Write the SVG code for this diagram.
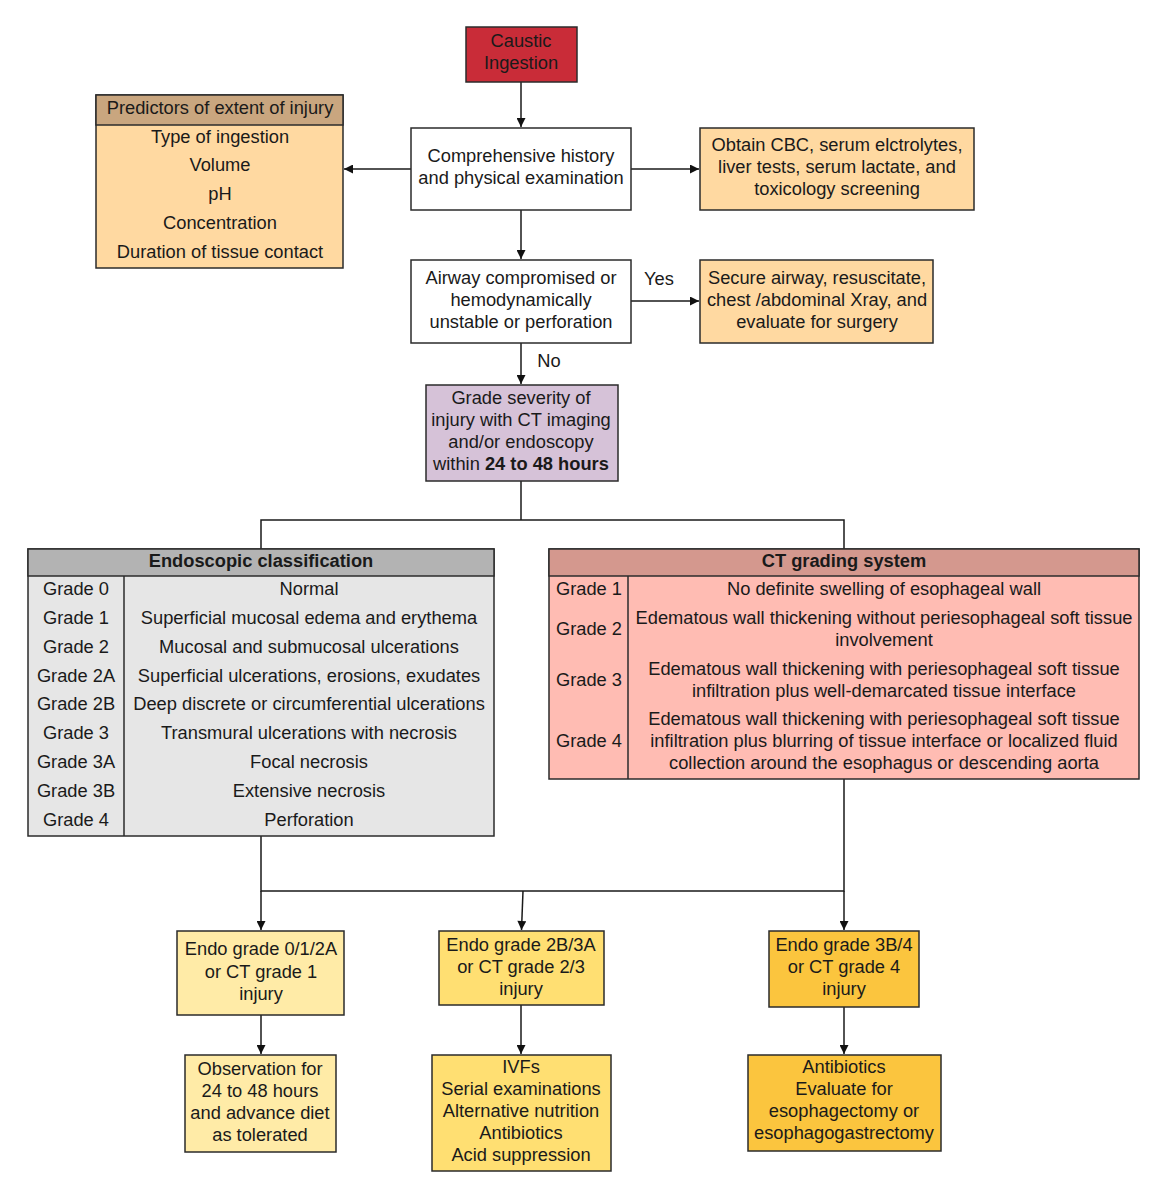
<svg xmlns="http://www.w3.org/2000/svg" width="1167" height="1200" viewBox="0 0 1167 1200">
<defs>
<marker id="arr" viewBox="0 0 10 10" refX="10" refY="5" markerWidth="11" markerHeight="9" markerUnits="userSpaceOnUse" orient="auto">
<path d="M0,0 L10,5 L0,10 z" fill="#111"/>
</marker>
<style>
text{font-family:"Liberation Sans",Arial,sans-serif;font-size:18.3px;fill:#1a1a1a;text-anchor:middle}
.b{font-weight:bold}
.box{stroke:#2b2b2b;stroke-width:1.5}
.c{fill:none;stroke:#1a1a1a;stroke-width:1.5}
</style>
</defs>
<rect width="1167" height="1200" fill="#fff"/>

<g id="connectors">
<line class="c" x1="521" y1="82" x2="521" y2="127" marker-end="url(#arr)"/>
<line class="c" x1="411" y1="169" x2="344" y2="169" marker-end="url(#arr)"/>
<line class="c" x1="631" y1="169" x2="699" y2="169" marker-end="url(#arr)"/>
<line class="c" x1="521" y1="210" x2="521" y2="259" marker-end="url(#arr)"/>
<line class="c" x1="631" y1="301" x2="699" y2="301" marker-end="url(#arr)"/>
<line class="c" x1="521" y1="343" x2="521" y2="384" marker-end="url(#arr)"/>
<polyline class="c" points="521,481 521,520"/>
<polyline class="c" points="261,549 261,520 844,520 844,549"/>
<polyline class="c" points="261,836 261,891 844,891 844,779"/>
<line class="c" x1="261" y1="891" x2="261" y2="930" marker-end="url(#arr)"/>
<line class="c" x1="523" y1="891" x2="521.5" y2="930" marker-end="url(#arr)"/>
<line class="c" x1="844" y1="891" x2="844" y2="930" marker-end="url(#arr)"/>
<line class="c" x1="261" y1="1015" x2="261" y2="1054" marker-end="url(#arr)"/>
<line class="c" x1="521" y1="1005" x2="521" y2="1054" marker-end="url(#arr)"/>
<line class="c" x1="844" y1="1007" x2="844" y2="1054" marker-end="url(#arr)"/>
<text x="659" y="285">Yes</text>
<text x="549" y="367">No</text>
</g>

<g id="caustic">
<rect class="box" x="466" y="27" width="111" height="55" fill="#c92c38"/>
<text x="521" y="47">Caustic</text>
<text x="521" y="69">Ingestion</text>
</g>

<g id="history">
<rect class="box" x="411" y="128" width="220" height="82" fill="#fff"/>
<text x="521" y="162">Comprehensive history</text>
<text x="521" y="184">and physical examination</text>
</g>

<g id="predictors">
<rect class="box" x="96" y="95" width="247" height="173" fill="#ffd9a1"/>
<rect class="box" x="96" y="95" width="247" height="30" fill="#c9a67f"/>
<text x="220" y="114">Predictors of extent of injury</text>
<text x="220" y="143">Type of ingestion</text>
<text x="220" y="171">Volume</text>
<text x="220" y="200">pH</text>
<text x="220" y="229">Concentration</text>
<text x="220" y="258">Duration of tissue contact</text>
</g>

<g id="labs">
<rect class="box" x="700" y="128" width="274" height="82" fill="#ffd9a1"/>
<text x="837" y="151">Obtain CBC, serum elctrolytes,</text>
<text x="837" y="173">liver tests, serum lactate, and</text>
<text x="837" y="195">toxicology screening</text>
</g>

<g id="airway">
<rect class="box" x="411" y="260" width="220" height="83" fill="#fff"/>
<text x="521" y="284">Airway compromised or</text>
<text x="521" y="306">hemodynamically</text>
<text x="521" y="328">unstable or perforation</text>
</g>

<g id="secure">
<rect class="box" x="700" y="260" width="233" height="83" fill="#ffd9a1"/>
<text x="817" y="284">Secure airway, resuscitate,</text>
<text x="817" y="306">chest /abdominal Xray, and</text>
<text x="817" y="328">evaluate for surgery</text>
</g>

<g id="grade">
<rect class="box" x="426" y="385" width="192" height="96" fill="#d6c2d8"/>
<text x="521" y="404">Grade severity of</text>
<text x="521" y="426">injury with CT imaging</text>
<text x="521" y="448">and/or endoscopy</text>
<text x="521" y="470">within <tspan class="b">24 to 48 hours</tspan></text>
</g>

<g id="endoscopic">
<rect class="box" x="28" y="549" width="466" height="287" fill="#e6e6e6"/>
<rect class="box" x="28" y="549" width="466" height="27" fill="#b3b3b3"/>
<line class="box" x1="124" y1="576" x2="124" y2="836"/>
<text class="b" x="261" y="567">Endoscopic classification</text>
<text x="76" y="595">Grade 0</text><text x="309" y="595">Normal</text>
<text x="76" y="624">Grade 1</text><text x="309" y="624">Superficial mucosal edema and erythema</text>
<text x="76" y="653">Grade 2</text><text x="309" y="653">Mucosal and submucosal ulcerations</text>
<text x="76" y="682">Grade 2A</text><text x="309" y="682">Superficial ulcerations, erosions, exudates</text>
<text x="76" y="710">Grade 2B</text><text x="309" y="710">Deep discrete or circumferential ulcerations</text>
<text x="76" y="739">Grade 3</text><text x="309" y="739">Transmural ulcerations with necrosis</text>
<text x="76" y="768">Grade 3A</text><text x="309" y="768">Focal necrosis</text>
<text x="76" y="797">Grade 3B</text><text x="309" y="797">Extensive necrosis</text>
<text x="76" y="826">Grade 4</text><text x="309" y="826">Perforation</text>
</g>

<g id="ct">
<rect class="box" x="549" y="549" width="590" height="230" fill="#ffbcb3"/>
<rect class="box" x="549" y="549" width="590" height="27" fill="#d4988e"/>
<line class="box" x1="628" y1="576" x2="628" y2="779"/>
<text class="b" x="844" y="567">CT grading system</text>
<text x="589" y="595">Grade 1</text><text x="884" y="595">No definite swelling of esophageal wall</text>
<text x="589" y="635">Grade 2</text><text x="884" y="624">Edematous wall thickening without periesophageal soft tissue</text><text x="884" y="646">involvement</text>
<text x="589" y="686">Grade 3</text><text x="884" y="675">Edematous wall thickening with periesophageal soft tissue</text><text x="884" y="697">infiltration plus well-demarcated tissue interface</text>
<text x="589" y="747">Grade 4</text><text x="884" y="725">Edematous wall thickening with periesophageal soft tissue</text><text x="884" y="747">infiltration plus blurring of tissue interface or localized fluid</text><text x="884" y="769">collection around the esophagus or descending aorta</text>
</g>

<g id="mild">
<rect class="box" x="177" y="931" width="167" height="84" fill="#ffeba7"/>
<text x="261" y="955">Endo grade 0/1/2A</text>
<text x="261" y="978">or CT grade 1</text>
<text x="261" y="1000">injury</text>
</g>

<g id="moderate">
<rect class="box" x="439" y="931" width="165" height="74" fill="#ffdf72"/>
<text x="521" y="951">Endo grade 2B/3A</text>
<text x="521" y="973">or CT grade 2/3</text>
<text x="521" y="995">injury</text>
</g>

<g id="severe">
<rect class="box" x="769" y="931" width="150" height="76" fill="#fbc53e"/>
<text x="844" y="951">Endo grade 3B/4</text>
<text x="844" y="973">or CT grade 4</text>
<text x="844" y="995">injury</text>
</g>

<g id="observation">
<rect class="box" x="185" y="1055" width="151" height="97" fill="#ffeba7"/>
<text x="260" y="1075">Observation for</text>
<text x="260" y="1097">24 to 48 hours</text>
<text x="260" y="1119">and advance diet</text>
<text x="260" y="1141">as tolerated</text>
</g>

<g id="supportive">
<rect class="box" x="432" y="1055" width="179" height="116" fill="#ffdf72"/>
<text x="521" y="1073">IVFs</text>
<text x="521" y="1095">Serial examinations</text>
<text x="521" y="1117">Alternative nutrition</text>
<text x="521" y="1139">Antibiotics</text>
<text x="521" y="1161">Acid suppression</text>
</g>

<g id="surgery">
<rect class="box" x="748" y="1055" width="193" height="96" fill="#fbc53e"/>
<text x="844" y="1073">Antibiotics</text>
<text x="844" y="1095">Evaluate for</text>
<text x="844" y="1117">esophagectomy or</text>
<text x="844" y="1139">esophagogastrectomy</text>
</g>
</svg>
